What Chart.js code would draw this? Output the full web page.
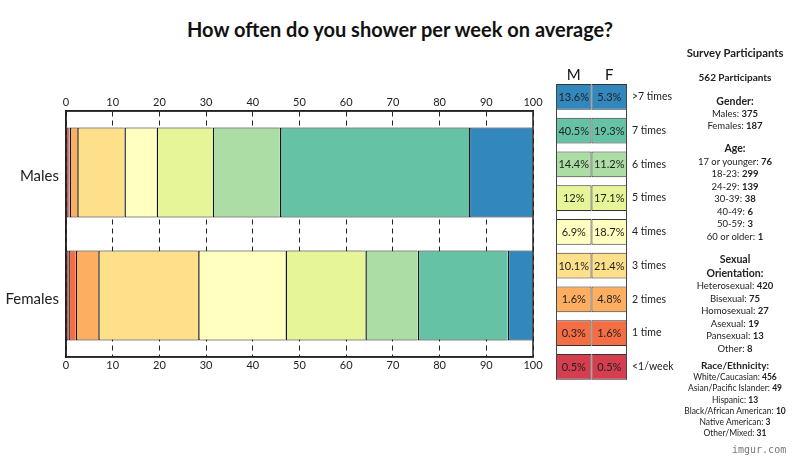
<!DOCTYPE html>
<html>
<head>
<meta charset="utf-8">
<script src="https://cdn.jsdelivr.net/npm/chart.js@4.4.1/dist/chart.umd.min.js"></script>
<style>
body{margin:0;background:#fff;width:800px;height:466px;overflow:hidden;position:relative;font-family:Lato,sans-serif;color:#222}
#title{position:absolute;left:0;top:16px;width:800px;text-align:center;font-weight:bold;font-size:20px;line-height:26px;color:#111}
#mainChart{position:absolute;left:0;top:0}
#tableChart{position:absolute;left:540px;top:50px}
.sec{position:absolute;left:672px;width:126px;text-align:center;font-size:9.5px;color:#222}
.sec b{font-weight:bold}
#imgur{position:absolute;left:732px;top:444px;font-family:'DejaVu Sans Mono',monospace;font-size:10px;color:#777}
</style>
</head>
<body>
<div id="title">How often do you shower per week on average?</div>
<canvas id="mainChart" width="545" height="466"></canvas>
<canvas id="tableChart" width="135" height="345"></canvas>

<div class="sec" style="top:46px;line-height:13px;font-size:11.3px"><b>Survey Participants</b></div>
<div class="sec" style="top:71px;line-height:13px;font-size:10px"><b>562 Participants</b></div>
<div class="sec" style="top:95px;line-height:12px">
<b style="font-size:10.5px">Gender:</b><br>Males: <b>375</b><br>Females: <b>187</b>
</div>
<div class="sec" style="top:142px;line-height:12.5px">
<b style="font-size:10.5px">Age:</b><br>17 or younger: <b>76</b><br>18-23: <b>299</b><br>24-29: <b>139</b><br>30-39: <b>38</b><br>40-49: <b>6</b><br>50-59: <b>3</b><br>60 or older: <b>1</b>
</div>
<div class="sec" style="top:253px;line-height:12.5px">
<b style="font-size:10.5px">Sexual<br>Orientation:</b><br>Heterosexual: <b>420</b><br>Bisexual: <b>75</b><br>Homosexual: <b>27</b><br>Asexual: <b>19</b><br>Pansexual: <b>13</b><br>Other: <b>8</b>
</div>
<div class="sec" style="top:360px;line-height:11.2px;font-size:8.5px">
<b style="font-size:10px">Race/Ethnicity:</b><br>White/Caucasian: <b>456</b><br>Asian/Pacific Islander: <b>49</b><br>Hispanic: <b>13</b><br>Black/African American: <b>10</b><br>Native American: <b>3</b><br>Other/Mixed: <b>31</b>
</div>
<div id="imgur">imgur.com</div>

<script>
const groups = ['Males', 'Females'];
const freqLabels = ['<1/week', '1 time', '2 times', '3 times', '4 times', '5 times', '6 times', '7 times', '>7 times'];
const malePct = [0.5, 0.3, 1.6, 10.1, 6.9, 12, 14.4, 40.5, 13.6];
const femalePct = [0.5, 1.6, 4.8, 21.4, 18.7, 17.1, 11.2, 19.3, 5.3];
const freqColors = ['#d53e4f', '#f46d43', '#fdae61', '#fee08b', '#ffffbf', '#e6f598', '#abdda4', '#66c2a5', '#3288bd'];
const xTicks = [0, 10, 20, 30, 40, 50, 60, 70, 80, 90, 100];
const cellHeads = ['M', 'F'];

// outline of the plot area
const frame = {
    id: 'frame',
    afterDraw(chart) {
        const a = chart.chartArea, ctx = chart.ctx;
        ctx.save();
        ctx.strokeStyle = '#222';
        ctx.lineWidth = 1.5;
        ctx.strokeRect(a.left, a.top, a.right - a.left, a.bottom - a.top);
        ctx.restore();
    }
};

const mainChart = new Chart(document.getElementById('mainChart'), {
    type: 'bar',
    data: {
        labels: groups,
        datasets: freqLabels.map((lab, i) => ({
            label: lab,
            data: [malePct[i], femalePct[i]],
            backgroundColor: freqColors[i],
            borderColor: '#151515',
            borderWidth: {left: 1.5, top: 1, bottom: 1, right: 0},
            borderSkipped: false,
            barPercentage: 0.73,
            categoryPercentage: 1
        }))
    },
    options: {
        indexAxis: 'y',
        responsive: false,
        animation: false,
        layout: {padding: {left: 0, right: 12, top: 90, bottom: 88}},
        plugins: {legend: {display: false}, tooltip: {enabled: false}},
        scales: {
            x: {
                type: 'linear', position: 'top', stacked: true, min: 0, max: 100,
                afterBuildTicks: s => { s.ticks = xTicks.map(v => ({value: v})); },
                afterFit: s => { s.height = 21; },
                grid: {color: '#222', lineWidth: 1, drawTicks: false},
                border: {display: true, color: '#222', width: 1.5, dash: [5, 4]},
                ticks: {padding: 2, color: '#222', font: {family: 'Lato', size: 11}}
            },
            x2: {
                type: 'linear', position: 'bottom', min: 0, max: 100,
                afterBuildTicks: s => { s.ticks = xTicks.map(v => ({value: v})); },
                afterFit: s => { s.height = 21; },
                grid: {display: false, drawTicks: false},
                border: {display: true, color: '#222', width: 1.5},
                ticks: {padding: 2, color: '#222', font: {family: 'Lato', size: 11}}
            },
            y: {
                stacked: true,
                afterFit: s => { s.width = 66; },
                grid: {display: false, drawTicks: false},
                border: {display: true, color: '#222', width: 1.5},
                ticks: {padding: 7, labelOffset: 4, color: '#222', font: {family: 'Lato', size: 15}}
            }
        }
    },
    plugins: [frame]
});

// percentages inside the cells + side lines of the table
const cellText = {
    id: 'cellText',
    afterDatasetsDraw(chart) {
        const ctx = chart.ctx;
        const vals = [malePct, femalePct];
        let top = Infinity, bottom = -Infinity;
        ctx.save();
        ctx.fillStyle = '#222';
        ctx.font = '11px Lato';
        ctx.textAlign = 'center';
        ctx.textBaseline = 'middle';
        chart.data.datasets.forEach((ds, d) => {
            chart.getDatasetMeta(d).data.forEach((el, i) => {
                ctx.fillText(vals[d][i] + '%', (el.x + el.base) / 2, el.y + 0.5);
                top = Math.min(top, el.y - el.height / 2);
                bottom = Math.max(bottom, el.y + el.height / 2);
            });
        });
        const a = chart.chartArea;
        ctx.strokeStyle = '#444';
        ctx.lineWidth = 1;
        ctx.beginPath();
        ctx.moveTo(a.left + 0.5, top); ctx.lineTo(a.left + 0.5, bottom);
        ctx.moveTo(a.right - 0.5, top); ctx.lineTo(a.right - 0.5, bottom);
        ctx.stroke();
        ctx.restore();
    }
};

const tableChart = new Chart(document.getElementById('tableChart'), {
    type: 'bar',
    data: {
        labels: freqLabels,
        datasets: cellHeads.map((h, d) => ({
            label: h,
            data: freqLabels.map(() => [d, d + 1]),
            backgroundColor: freqColors,
            borderColor: '#333',
            borderWidth: 1,
            borderSkipped: false,
            barPercentage: 0.76,
            categoryPercentage: 1,
            grouped: false
        }))
    },
    options: {
        indexAxis: 'y',
        responsive: false,
        animation: false,
        layout: {padding: {left: 16, right: 0, top: 0, bottom: 8}},
        plugins: {legend: {display: false}, tooltip: {enabled: false}},
        scales: {
            x: {
                type: 'linear', position: 'top', min: 0, max: 2,
                afterBuildTicks: s => { s.ticks = [{value: 0.5}, {value: 1.5}]; },
                afterFit: s => { s.height = 30; },
                grid: {display: false, drawTicks: false},
                border: {display: false},
                ticks: {padding: -4, color: '#111', font: {family: 'Lato', size: 15},
                    callback: (v, i) => cellHeads[i]}
            },
            y: {
                position: 'right', reverse: true,
                afterFit: s => { s.width = 48; },
                grid: {display: false, drawTicks: false},
                border: {display: false},
                ticks: {padding: 5, color: '#222', font: {family: 'Lato', size: 10.5}}
            }
        }
    },
    plugins: [cellText]
});
</script>
</body>
</html>
